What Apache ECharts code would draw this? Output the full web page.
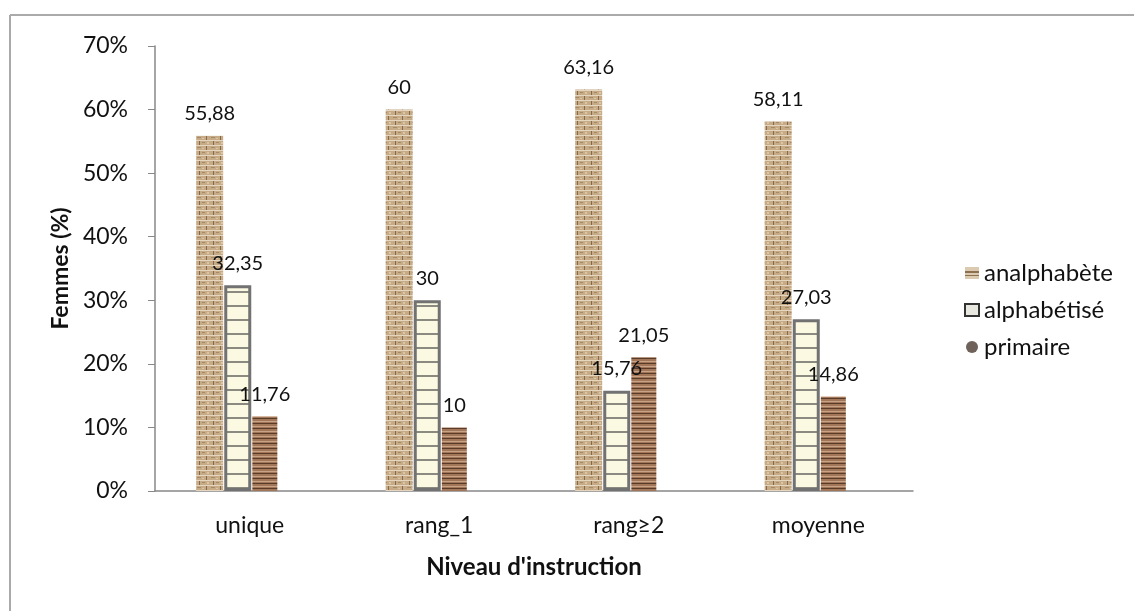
<!DOCTYPE html>
<html>
<head>
<meta charset="utf-8">
<script src="https://cdn.jsdelivr.net/npm/echarts@6/dist/echarts.min.js"></script>
<style>
html,body{margin:0;padding:0;background:#fff;}
#chart{width:1134px;height:611px;}
</style>
</head>
<body>
<div id="chart"></div>
<script>
var categories = ['unique', 'rang_1', 'rang\u22652', 'moyenne'];
var analphabete = [55.88, 60, 63.16, 58.11];
var alphabetise = [32.35, 30, 15.76, 27.03];
var primaire = [11.76, 10, 21.05, 14.86];
var seriesNames = ['analphab\u00e8te', 'alphab\u00e9tis\u00e9', 'primaire'];
var yTicks = [0, 10, 20, 30, 40, 50, 60, 70];

function makeCanvas(w, h, draw) {
  var c = document.createElement('canvas');
  c.width = w; c.height = h;
  draw(c.getContext('2d'));
  return c;
}
var brick = makeCanvas(14, 10, function (g) {
  g.fillStyle = '#c6ab86'; g.fillRect(0, 0, 14, 10);
  g.fillStyle = '#e4d6bf'; g.fillRect(0, 0, 14, 1); g.fillRect(0, 5, 14, 1);
  g.fillStyle = '#85694c'; g.fillRect(3, 1, 1, 4); g.fillRect(10, 6, 1, 4);
  g.fillStyle = '#a58a68'; g.fillRect(6, 2, 3, 1); g.fillRect(1, 7, 4, 1);
  g.fillStyle = '#d8c6a6'; g.fillRect(11, 2, 2, 2); g.fillRect(6, 8, 2, 1);
});
var ladder = makeCanvas(8, 14, function (g) {
  g.fillStyle = '#fbf9e2'; g.fillRect(0, 0, 8, 14);
  g.fillStyle = '#8a8a80'; g.fillRect(0, 11, 8, 2);
});
var coil = makeCanvas(8, 5, function (g) {
  g.fillStyle = '#a27658'; g.fillRect(0, 0, 8, 5);
  g.fillStyle = '#5a3b28'; g.fillRect(0, 3, 8, 1);
  g.fillStyle = '#c9a386'; g.fillRect(0, 1, 8, 1);
});
var legendBrick = makeCanvas(14, 12, function (g) {
  g.fillStyle = '#dccab0'; g.fillRect(0, 0, 14, 12);
  g.fillStyle = '#8d6f52'; g.fillRect(0, 4, 14, 2); g.fillRect(0, 8, 14, 1);
});

var font = 'Lato, "Liberation Sans", sans-serif';
function fmt(p) { return String(p.value).replace('.', ','); }
var labelCfg = { show: true, position: 'top', distance: 12, formatter: fmt, fontFamily: font, fontSize: 20, color: '#111' };

var chart = echarts.init(document.getElementById('chart'));
chart.setOption({
  animation: false,
  backgroundColor: '#fff',
  graphic: [
    { type: 'line', shape: { x1: 10, y1: 15, x2: 1134, y2: 15 }, style: { stroke: '#aaaaaa', lineWidth: 2 } },
    { type: 'line', shape: { x1: 10, y1: 15, x2: 10, y2: 611 }, style: { stroke: '#aaaaaa', lineWidth: 2 } }
  ],
  grid: { left: 155, right: 221, top: 46, bottom: 120, containLabel: false },
  legend: {
    orient: 'vertical', left: 959, top: 256, itemGap: 13, itemWidth: 14, itemHeight: 12,
    data: [
      { name: seriesNames[0], icon: 'rect', itemStyle: { color: { image: legendBrick, repeat: 'repeat' }, borderWidth: 0 } },
      { name: seriesNames[1], icon: 'rect', itemStyle: { color: '#e8e8e0', borderColor: '#333', borderWidth: 2 } },
      { name: seriesNames[2], icon: 'circle', itemStyle: { color: '#6f625a', borderWidth: 0 } }
    ],
    textStyle: { fontFamily: font, fontSize: 24, color: '#111', padding: [0, 0, 0, 0] }
  },
  xAxis: {
    type: 'category', data: categories,
    name: "Niveau d'instruction", nameLocation: 'middle', nameGap: 64,
    nameTextStyle: { fontFamily: font, fontSize: 24, fontWeight: 'bold', color: '#111' },
    axisLine: { lineStyle: { color: '#888', width: 1.5 } },
    axisTick: { show: false },
    axisLabel: { fontFamily: font, fontSize: 23, color: '#111', margin: 23 }
  },
  yAxis: {
    type: 'value', min: yTicks[0], max: yTicks[yTicks.length - 1], interval: 10,
    name: 'Femmes (%)', nameLocation: 'middle', nameGap: 75,
    nameTextStyle: { fontFamily: font, fontSize: 23, fontWeight: 'bold', color: '#111' },
    axisLine: { show: true, lineStyle: { color: '#888', width: 1.5 } },
    axisTick: { show: true, length: 7, lineStyle: { color: '#888' } },
    splitLine: { show: false },
    axisLabel: { formatter: '{value}%', fontFamily: font, fontSize: 23, color: '#111', margin: 27 }
  },
  series: [
    { name: seriesNames[0], type: 'bar', data: analphabete, barWidth: 27, barGap: '4%',
      itemStyle: { color: { image: brick, repeat: 'repeat' } }, label: labelCfg },
    { name: seriesNames[1], type: 'bar', data: alphabetise, barWidth: 27, barGap: '4%',
      itemStyle: { color: { image: ladder, repeat: 'repeat' }, borderColor: '#727272', borderWidth: 3 }, label: labelCfg },
    { name: seriesNames[2], type: 'bar', data: primaire, barWidth: 25, barGap: '4%',
      itemStyle: { color: { image: coil, repeat: 'repeat' } }, label: labelCfg },
    { name: 'spacer', type: 'bar', data: [null, null, null, null], barWidth: 25, barGap: '4%', silent: true }
  ]
});
</script>
</body>
</html>
